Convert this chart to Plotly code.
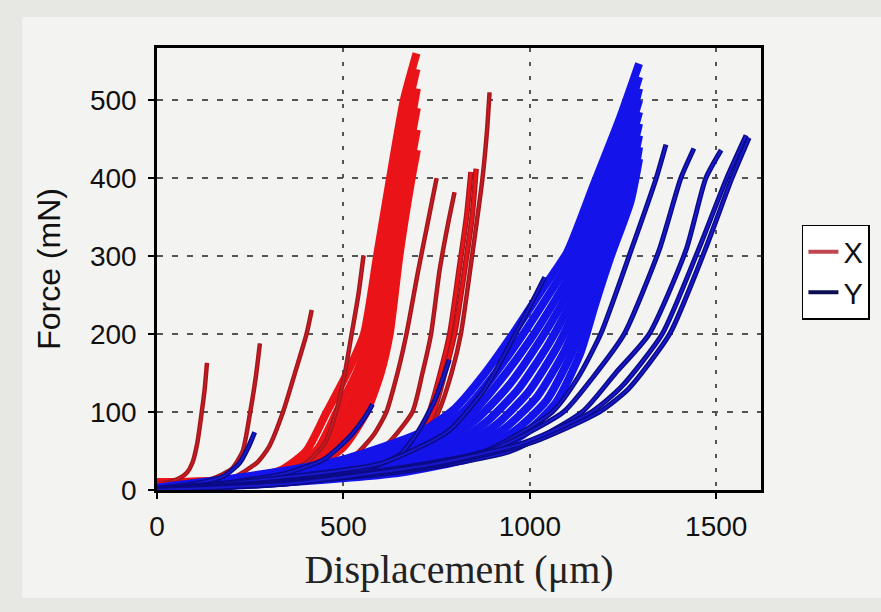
import plotly.graph_objects as go

# ---------------- data ----------------
# Red (X) individual loading curves
red_1_x = [0, 30, 60, 80, 95, 108, 120, 128, 134]
red_1_y = [8, 10, 15, 22, 35, 60, 100, 130, 163]
red_2_x = [0, 80, 150, 200, 230, 250, 265, 276]
red_2_y = [6, 10, 15, 27, 50, 100, 145, 188]
red_3_x = [0, 100, 200, 268, 300, 338, 370, 401, 415]
red_3_y = [5, 8, 15, 35, 55, 100, 150, 200, 231]
red_4_x = [0, 150, 300, 400, 450, 480, 502, 522, 540, 554]
red_4_y = [5, 9, 18, 35, 60, 100, 145, 200, 250, 301]
red_6_x = [0, 250, 420, 520, 580, 615, 645, 669, 700, 725, 750]
red_6_y = [8, 11, 22, 40, 70, 100, 150, 200, 280, 340, 400]
red_7_x = [0, 280, 460, 570, 630, 685, 712, 735, 758, 780, 798]
red_7_y = [8, 11, 22, 40, 65, 100, 150, 200, 282, 340, 382]
red_9_x = [0, 320, 530, 650, 715, 755, 790, 815, 845, 873, 885, 892]
red_9_y = [8, 11, 22, 40, 65, 100, 150, 200, 300, 400, 460, 510]

# Red (X) dense bundle
red_b1_x = [0, 200, 330, 400, 450, 510, 555, 590, 625, 662, 696]
red_b1_y = [10, 13, 25, 50, 95, 150, 200, 300, 400, 500, 560]
red_b2_x = [0, 220, 350, 430, 482, 535, 570, 603, 637, 672, 696]
red_b2_y = [10, 13, 25, 52, 100, 150, 200, 300, 400, 490, 540]
red_b3_x = [0, 230, 370, 450, 505, 555, 585, 615, 650, 680, 697]
red_b3_y = [9, 12, 26, 53, 100, 150, 200, 300, 400, 470, 515]
red_b4_x = [0, 240, 385, 470, 525, 570, 598, 628, 662, 697]
red_b4_y = [9, 12, 27, 54, 100, 150, 200, 300, 400, 490]
red_b5_x = [0, 245, 400, 485, 545, 585, 612, 640, 673, 697]
red_b5_y = [8, 12, 28, 55, 100, 150, 200, 300, 400, 462]
red_b6_x = [0, 250, 420, 500, 562, 600, 624, 650, 683, 697]
red_b6_y = [8, 12, 30, 55, 100, 150, 200, 300, 400, 436]
red_8a_x = [0, 300, 500, 620, 690, 730, 760, 785, 810, 830, 842]
red_8a_y = [8, 11, 22, 40, 65, 100, 150, 200, 282, 350, 408]
red_8b_x = [0, 310, 510, 630, 700, 742, 772, 798, 825, 845, 856]
red_8b_y = [8, 11, 22, 40, 65, 100, 150, 200, 282, 350, 412]

# Blue (Y) small / early curves
blue_s_x = [0, 100, 180, 222, 245, 262]
blue_s_y = [2, 8, 18, 35, 55, 74]
blue_m1_x = [0, 200, 350, 450, 520, 560, 578]
blue_m1_y = [2, 10, 22, 40, 70, 95, 110]
blue_m2_x = [0, 300, 550, 650, 700, 745, 784]
blue_m2_y = [2, 10, 25, 45, 75, 115, 167]
blue_e_x = [0, 300, 600, 780, 880, 950, 1005, 1040]
blue_e_y = [0, 14, 34, 75, 130, 190, 240, 273]

# Blue (Y) dense bundle
blue_b1_x = [0, 250, 490, 704, 800, 880, 953, 1030, 1100, 1170, 1240, 1293]
blue_b1_y = [3, 18, 38, 73, 105, 150, 199, 255, 305, 390, 475, 547]
blue_b2_x = [0, 260, 510, 720, 820, 900, 975, 1050, 1115, 1185, 1250, 1293]
blue_b2_y = [3, 16, 35, 68, 100, 145, 195, 250, 300, 385, 465, 530]
blue_b3_x = [0, 270, 530, 740, 840, 920, 1000, 1070, 1130, 1200, 1260, 1293]
blue_b3_y = [2, 15, 33, 63, 96, 140, 192, 245, 295, 380, 455, 515]
blue_b4_x = [0, 280, 550, 760, 860, 945, 1025, 1090, 1145, 1215, 1293]
blue_b4_y = [2, 14, 31, 59, 92, 135, 190, 242, 292, 378, 500]
blue_b5_x = [0, 290, 570, 780, 885, 970, 1050, 1110, 1160, 1228, 1293]
blue_b5_y = [2, 13, 29, 55, 88, 130, 187, 240, 290, 375, 485]
blue_b6_x = [0, 300, 590, 800, 910, 995, 1075, 1130, 1175, 1240, 1293]
blue_b6_y = [1, 12, 27, 52, 84, 125, 185, 240, 290, 370, 470]
blue_b7_x = [0, 310, 610, 820, 935, 1020, 1095, 1145, 1190, 1250, 1293]
blue_b7_y = [1, 11, 25, 49, 80, 120, 180, 238, 290, 365, 455]
blue_b8_x = [0, 320, 630, 840, 960, 1045, 1115, 1160, 1205, 1262, 1293]
blue_b8_y = [1, 10, 24, 46, 76, 115, 178, 236, 292, 362, 440]
blue_b9_x = [0, 330, 650, 860, 985, 1070, 1135, 1175, 1215, 1270, 1293]
blue_b9_y = [0, 9, 22, 43, 72, 112, 175, 238, 297, 370, 425]

# Blue (Y) individual right-hand curves
blue_a_x = [0, 300, 600, 880, 1060, 1130, 1190, 1272, 1339, 1365]
blue_a_y = [0, 10, 25, 50, 100, 145, 200, 308, 400, 443]
blue_bb_x = [0, 300, 600, 900, 1090, 1170, 1253, 1347, 1405, 1440]
blue_bb_y = [0, 9, 23, 52, 100, 145, 200, 308, 400, 438]
blue_c_x = [0, 300, 650, 950, 1140, 1230, 1320, 1419, 1472, 1513]
blue_c_y = [0, 8, 23, 50, 100, 150, 200, 308, 400, 436]
blue_d1_x = [0, 350, 758, 1000, 1186, 1265, 1375, 1470, 1542, 1588]
blue_d1_y = [0, 8, 33, 60, 100, 130, 200, 308, 400, 452]
blue_d2_x = [0, 350, 740, 980, 1165, 1245, 1355, 1452, 1528, 1580]
blue_d2_y = [0, 8, 33, 60, 100, 132, 200, 308, 400, 455]

x_ticks = [0, 500, 1000, 1500]
y_ticks = [0, 100, 200, 300, 400, 500]
series_names = ["X", "Y"]

# ---------------- styling ----------------
RED_DARK = "#a3171d"
RED_MID = "#c81b22"
RED_BRIGHT = "#ea1418"
BLUE_DARK = "#0b0b86"
BLUE_MID = "#1818cc"
BLUE_BRIGHT = "#1414ea"

fig = go.Figure()


def add_line(x, y, color, width, group):
    fig.add_trace(go.Scatter(x=x, y=y, mode="lines", line=dict(color=color, width=width,
                             shape="spline", smoothing=0.6),
                             showlegend=False, legendgroup=group, hoverinfo="skip"))


def add_outlined(x, y, outer, inner, group, w_out=4.5, w_in=1.6):
    add_line(x, y, outer, w_out, group)
    add_line(x, y, inner, w_in, group)


# red
for cx, cy in [(red_b1_x, red_b1_y), (red_b2_x, red_b2_y), (red_b3_x, red_b3_y),
               (red_b4_x, red_b4_y), (red_b5_x, red_b5_y), (red_b6_x, red_b6_y)]:
    add_line(cx, cy, RED_BRIGHT, 8, "X")
for cx, cy in [(red_1_x, red_1_y), (red_2_x, red_2_y), (red_3_x, red_3_y),
               (red_4_x, red_4_y), (red_6_x, red_6_y), (red_7_x, red_7_y), (red_9_x, red_9_y)]:
    add_outlined(cx, cy, RED_DARK, RED_MID, "X")
for cx, cy in [(red_8a_x, red_8a_y), (red_8b_x, red_8b_y)]:
    add_outlined(cx, cy, RED_DARK, RED_BRIGHT, "X", 5.5, 3)

# blue
for cx, cy in [(blue_b1_x, blue_b1_y), (blue_b2_x, blue_b2_y), (blue_b3_x, blue_b3_y),
               (blue_b4_x, blue_b4_y), (blue_b5_x, blue_b5_y), (blue_b6_x, blue_b6_y),
               (blue_b7_x, blue_b7_y), (blue_b8_x, blue_b8_y), (blue_b9_x, blue_b9_y)]:
    add_line(cx, cy, BLUE_BRIGHT, 8, "Y")
for cx, cy in [(blue_s_x, blue_s_y), (blue_m1_x, blue_m1_y), (blue_m2_x, blue_m2_y),
               (blue_e_x, blue_e_y), (blue_a_x, blue_a_y), (blue_bb_x, blue_bb_y),
               (blue_c_x, blue_c_y), (blue_d1_x, blue_d1_y), (blue_d2_x, blue_d2_y)]:
    add_outlined(cx, cy, BLUE_DARK, BLUE_MID, "Y", 5, 2)

# legend entries
for name, col in zip(series_names, ["#c0464f", "#0c0c50"]):
    fig.add_trace(go.Scatter(x=[None], y=[None], mode="lines", name=name,
                             line=dict(color=col, width=4), legendgroup=name))

axis_common = dict(showline=True, mirror=True, linecolor="black", linewidth=2.5,
                   ticks="outside", ticklen=6, tickwidth=1.5, tickcolor="black",
                   showgrid=True, gridcolor="#555555", gridwidth=1.7, zeroline=False,
                   automargin=False,
                   tickfont=dict(family="Liberation Sans, Arial, sans-serif", size=28, color="#111"))

fig.update_xaxes(range=[0, 1620], tickvals=x_ticks, griddash="4px,10px",
                 ticklabelstandoff=4,
                 title=dict(text="Displacement (μm)", standoff=14,
                            font=dict(family="Liberation Serif, Times New Roman, serif", size=40, color="#222")),
                 **axis_common)
fig.update_yaxes(range=[0, 567], tickvals=y_ticks, griddash="6px,9px",
                 ticklabelstandoff=6,
                 title=dict(text="Force (mN)", standoff=20,
                            font=dict(family="Liberation Sans, Arial, sans-serif", size=32, color="#111")),
                 **axis_common)

fig.update_layout(
    width=881, height=612,
    margin=dict(l=157, r=119, t=48, b=122),
    paper_bgcolor="#e7e7e3",
    plot_bgcolor="#f1f1f1",
    legend=dict(x=1.066, y=0.60, xanchor="left", yanchor="top",
                bgcolor="white", bordercolor="black", borderwidth=1.5,
                font=dict(family="Liberation Sans, Arial, sans-serif", size=29, color="#111"),
                itemwidth=30, tracegroupgap=0),
    shapes=[dict(type="rect", xref="paper", yref="paper", x0=-0.223, x1=1.3, y0=-0.244, y1=1.07,
                 fillcolor="#f3f3f2", line=dict(width=0), layer="below")],
)

fig.write_html("out.html", config={"displayModeBar": False},
               post_script="document.body.style.margin='0px';document.body.style.background='#e7e7e3';")
